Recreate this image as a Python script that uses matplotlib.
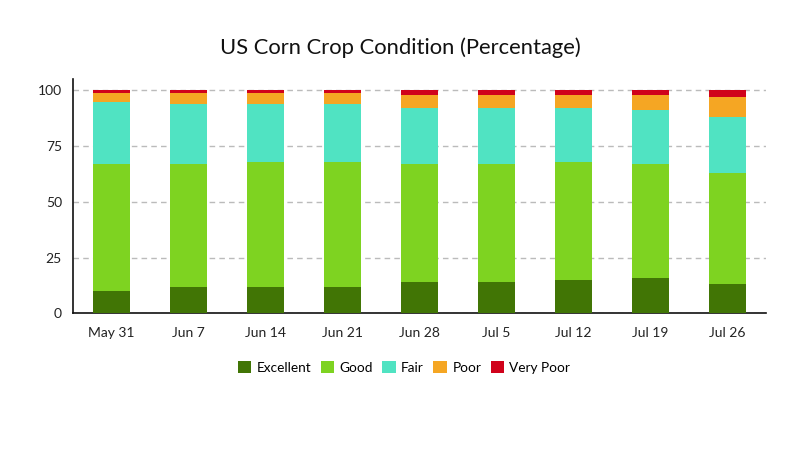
import matplotlib
matplotlib.use("Agg")
import matplotlib.pyplot as plt
import numpy as np

categories = ["May 31", "Jun 7", "Jun 14", "Jun 21", "Jun 28", "Jul 5", "Jul 12", "Jul 19", "Jul 26"]
excellent = [10, 12, 12, 12, 14, 14, 15, 16, 13]
good = [57, 55, 56, 56, 53, 53, 53, 51, 50]
fair = [28, 27, 26, 26, 25, 25, 24, 24, 25]
poor = [4, 5, 5, 5, 6, 6, 6, 7, 9]
very_poor = [1, 1, 1, 1, 2, 2, 2, 2, 3]
series_names = ["Excellent", "Good", "Fair", "Poor", "Very Poor"]
yticks = [0, 25, 50, 75, 100]

colors = ["#417505", "#7ed321", "#50e3c2", "#f5a623", "#d0021b"]

plt.rcParams['font.family'] = ['Lato', 'DejaVu Sans']

fig = plt.figure(figsize=(8, 4.5), dpi=100)
ax = fig.add_axes([0.09125, 0.3038, 0.86625, 0.52])

x = np.arange(len(categories))
bottom = np.zeros(len(categories))
for name, vals, c in zip(series_names, [excellent, good, fair, poor, very_poor], colors):
    ax.bar(x, vals, width=0.48, bottom=bottom, color=c, label=name, zorder=3)
    bottom += np.array(vals)

ax.set_xlim(-0.5, len(categories) - 0.5)
ax.set_ylim(0, 105)
ax.set_yticks(yticks)
ax.set_xticks(x)
ax.set_xticklabels(categories)
ax.tick_params(axis='both', length=0, labelsize=10, colors='#222222')
ax.tick_params(axis='x', pad=10)
ax.tick_params(axis='y', pad=8)
ax.yaxis.grid(True, linestyle=(0, (4, 3)), color='#bbbbbb', linewidth=1, zorder=0)
for s in ['top', 'right']:
    ax.spines[s].set_visible(False)
for s in ['left', 'bottom']:
    ax.spines[s].set_color('#111111')
    ax.spines[s].set_linewidth(1.2)

fig.suptitle("US Corn Crop Condition (Percentage)", y=0.917, fontsize=15.8, color='#111111')

handles, labels = ax.get_legend_handles_labels()
fig.legend(handles, labels, loc='center', bbox_to_anchor=(0.505, 0.184), ncol=5,
           frameon=False, fontsize=9.8, handlelength=1.0, handleheight=1.0,
           handletextpad=0.38, columnspacing=0.7)

fig.savefig("out.png", dpi=100)
